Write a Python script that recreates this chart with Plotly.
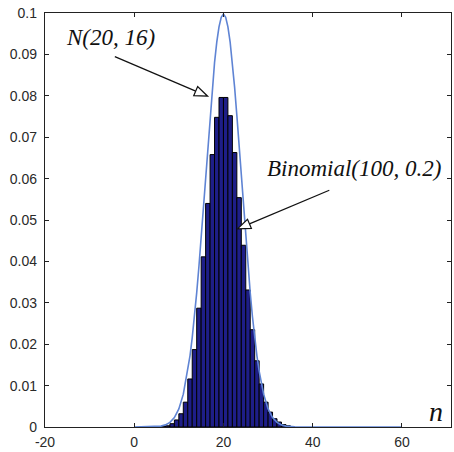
import plotly.graph_objects as go

# ---- data ----
bin_left = [6, 7, 8, 9, 10, 11, 12, 13, 14, 15, 16, 17, 18, 19, 20,
            21, 22, 23, 24, 25, 26, 27, 28, 29, 30, 31, 32, 33, 34]
bin_height = [0.0001, 0.0003, 0.0008, 0.0017, 0.0032, 0.0060, 0.0116, 0.0187,
              0.0287, 0.0411, 0.0540, 0.0658, 0.0748, 0.0796, 0.0796,
              0.0752, 0.0663, 0.0554, 0.0439, 0.0331, 0.0235, 0.0160,
              0.0104, 0.0060, 0.0036, 0.0020, 0.0012, 0.0006, 0.0003]

curve_x = [0, 4, 5, 6, 7, 8, 9, 10, 11, 12, 12.5, 13, 13.5, 14, 14.5, 15, 15.5,
           16, 16.5, 17, 17.5, 18, 18.5, 19, 19.5, 20, 20.5, 21, 21.5, 22, 22.5,
           23, 23.5, 24, 24.5, 25, 25.5, 26, 26.5, 27, 27.5, 28, 29, 30, 31, 32,
           33, 34, 35, 36, 40, 60]
curve_y = [0.0, 0.00003, 0.00009, 0.00022, 0.00051, 0.00111, 0.00227, 0.00438,
           0.00794, 0.01350, 0.01720, 0.02158, 0.02664, 0.03239, 0.03876,
           0.04566, 0.05297, 0.06049, 0.06802, 0.07528, 0.08204, 0.08802,
           0.09297, 0.09667, 0.09897, 0.09974, 0.09897, 0.09667, 0.09297,
           0.08802, 0.08204, 0.07528, 0.06802, 0.06049, 0.05297, 0.04566,
           0.03876, 0.03239, 0.02664, 0.02158, 0.01720, 0.01350, 0.00794,
           0.00438, 0.00227, 0.00111, 0.00051, 0.00022, 0.00009, 0.00003,
           0.0, 0.0]

x_ticks = [-20, 0, 20, 40, 60]
x_tick_text = ["-20", "0", "20", "40", "60"]
y_ticks = [0, 0.01, 0.02, 0.03, 0.04, 0.05, 0.06, 0.07, 0.08, 0.09, 0.1]
y_tick_text = ["0", "0.01", "0.02", "0.03", "0.04", "0.05", "0.06", "0.07",
               "0.08", "0.09", "0.1"]

# ---- layout geometry ----
W, H = 454, 452
L, R, T, B = 45, 2, 13, 21
XR = [-20, 71]
YR = [0, 0.1]
PW, PH = W - L - R, H - T - B


def px2x(px):
    return XR[0] + (px - L) / PW * (XR[1] - XR[0])


def py2y(py):
    return YR[0] + (T + PH - py) / PH * (YR[1] - YR[0])


fig = go.Figure()
fig.add_trace(go.Bar(
    x=bin_left, y=bin_height, width=1, offset=0,
    marker=dict(color="#1e1e88", line=dict(color="#000000", width=1)),
    showlegend=False, hoverinfo="skip"))
fig.add_trace(go.Scatter(
    x=curve_x, y=curve_y, mode="lines",
    line=dict(color="#5f84d4", width=1.6),
    showlegend=False, hoverinfo="skip"))

serif = "Liberation Serif, Times New Roman, serif"
annotations = []
shapes = []


def open_arrow(tail, tip, head_len=13, half_w=5):
    import math
    dx, dy = tip[0] - tail[0], tip[1] - tail[1]
    d = math.hypot(dx, dy)
    ux, uy = dx / d, dy / d
    bx, by = tip[0] - ux * head_len, tip[1] - uy * head_len
    p1 = (bx - uy * half_w, by + ux * half_w)
    p2 = (bx + uy * half_w, by - ux * half_w)
    shapes.append(dict(type="line", xref="x", yref="y",
                       x0=px2x(tail[0]), y0=py2y(tail[1]),
                       x1=px2x(bx), y1=py2y(by),
                       line=dict(color="#111", width=1.2)))
    path = "M {} {} L {} {} L {} {} Z".format(
        px2x(tip[0]), py2y(tip[1]), px2x(p1[0]), py2y(p1[1]),
        px2x(p2[0]), py2y(p2[1]))
    shapes.append(dict(type="path", xref="x", yref="y", path=path,
                       fillcolor="white", line=dict(color="#111", width=1.2)))


open_arrow((115, 57), (208, 97))
open_arrow((330, 192), (238, 231))

annotations.append(dict(x=px2x(111), y=py2y(38), xref="x", yref="y",
                        text="<i>N(20, 16)</i>", showarrow=False,
                        font=dict(family=serif, size=23, color="#111")))
annotations.append(dict(x=px2x(355), y=py2y(170), xref="x", yref="y",
                        text="<i>Binomial(100, 0.2)</i>", showarrow=False,
                        font=dict(family=serif, size=23, color="#111")))
annotations.append(dict(x=px2x(437), y=py2y(415), xref="x", yref="y",
                        text="<i>n</i>", showarrow=False,
                        font=dict(family=serif, size=28, color="#111")))

axis_common = dict(showgrid=False, zeroline=False, showline=True,
                   linecolor="#222", linewidth=1.2, mirror="ticks",
                   ticks="inside", ticklen=4, tickcolor="#222",
                   tickfont=dict(family="Liberation Sans, Arial, sans-serif",
                                 size=14, color="#2a2a2a"))

fig.update_layout(
    width=W, height=H,
    margin=dict(l=L, r=R, t=T, b=B, pad=0),
    paper_bgcolor="white", plot_bgcolor="white",
    bargap=0,
    xaxis=dict(range=XR, tickvals=x_ticks, ticktext=x_tick_text,
               ticklabelstandoff=2, **axis_common),
    yaxis=dict(range=YR, tickvals=y_ticks, ticktext=y_tick_text,
               ticklabelstandoff=4, **axis_common),
    annotations=annotations, shapes=shapes,
)

fig.write_html(
    "out.html",
    config={"displayModeBar": False, "staticPlot": True},
    post_script="document.body.style.margin='0px';"
                "document.body.style.overflow='hidden';")
